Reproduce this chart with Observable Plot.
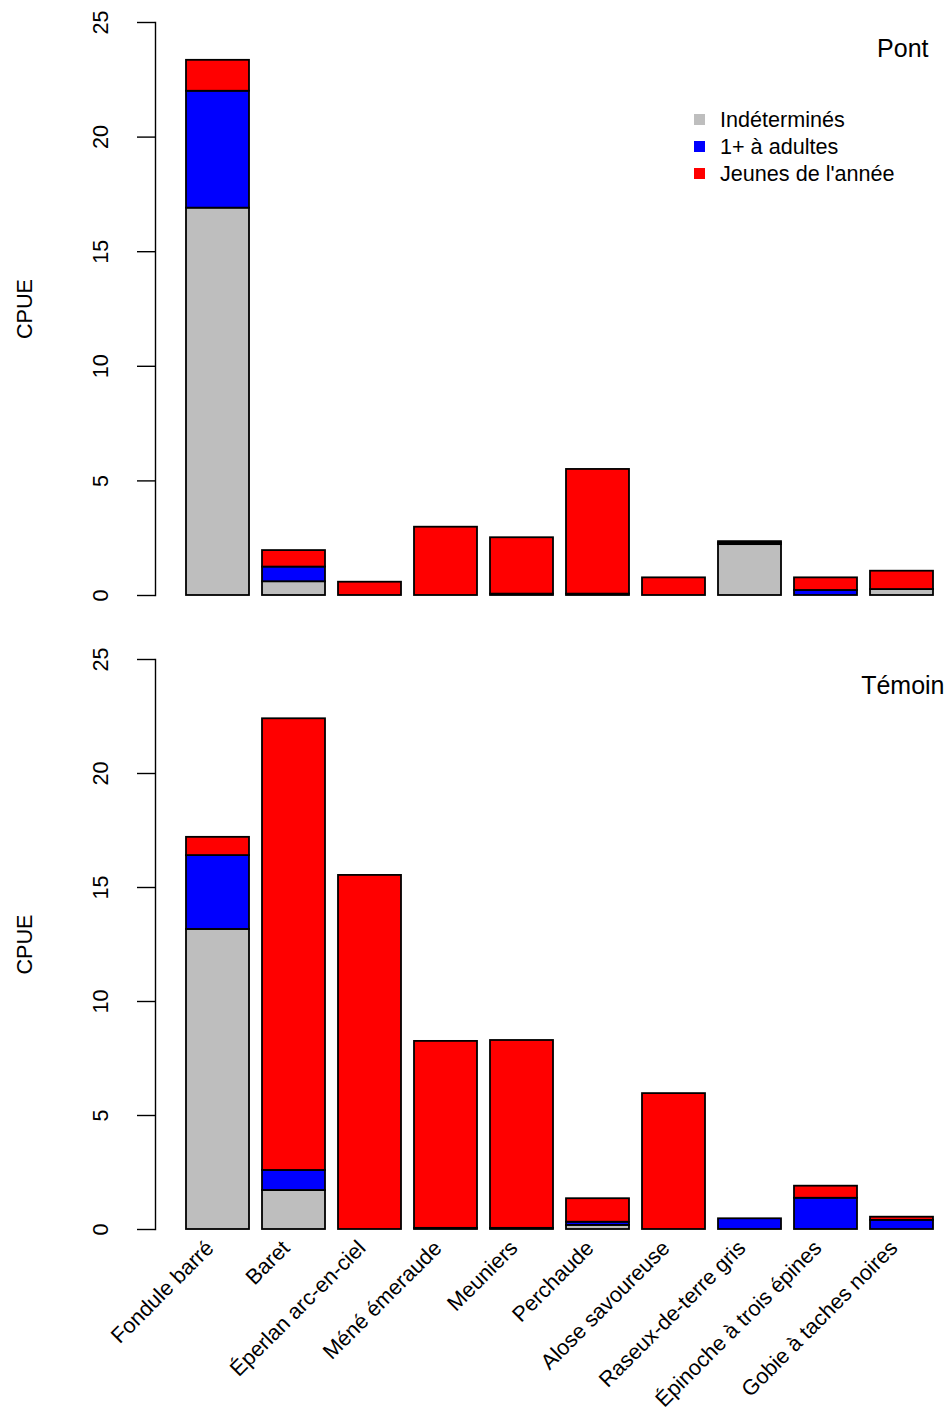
<!DOCTYPE html>
<html><head><meta charset="utf-8">
<script src="https://cdn.jsdelivr.net/npm/d3@7"></script>
<script src="https://cdn.jsdelivr.net/npm/@observablehq/plot@0.6"></script>
<style>
body{margin:0;background:#fff;font-family:"Liberation Sans",Arial,sans-serif}
#chart{position:relative;width:948px}
#chart svg{display:block}
.legend{position:absolute;left:694px;top:106px;font-size:21.6px;line-height:27px;color:#000}
.legend div{display:flex;align-items:center}
.legend span.sw{display:inline-block;width:11px;height:11px;margin-right:15px}
</style>
</head><body><div id="chart"></div>
<script>
const categories = ["Fondule barré","Baret","Éperlan arc-en-ciel","Méné émeraude","Meuniers","Perchaude","Alose savoureuse","Raseux-de-terre gris","Épinoche à trois épines","Gobie à taches noires"];
const stages = ["Indéterminés","1+ à adultes","Jeunes de l'année"];
const stageColors = ["#BEBEBE","#0000FF","#FF0000"];
const panels = ["Pont","Témoin"];
const yTicks = [0,5,10,15,20,25];
const yLabel = "CPUE";

const pontIndet   = [16.9, 0.6, 0, 0, 0, 0, 0, 2.22, 0, 0.26];
const pontAdultes = [5.1, 0.64, 0, 0, 0.06, 0.06, 0, 0.07, 0.22, 0];
const pontJeunes  = [1.35, 0.72, 0.58, 2.98, 2.46, 5.44, 0.77, 0.06, 0.55, 0.8];

const temoinIndet   = [13.16, 1.71, 0, 0, 0, 0.18, 0, 0, 0, 0];
const temoinAdultes = [3.24, 0.88, 0, 0.05, 0.05, 0.14, 0, 0.47, 1.37, 0.4];
const temoinJeunes  = [0.8, 19.81, 15.53, 8.2, 8.24, 1.03, 5.96, 0, 0.53, 0.14];

function rows(series) {
  const out = [];
  categories.forEach((c, i) => {
    series.forEach((s, k) => out.push({category: c, stage: stages[k], value: s[i]}));
  });
  return out;
}

const font = "'Liberation Sans', Arial, sans-serif";
const fs = 21.6;

function panel(name, series, opts) {
  const {height, marginTop, marginBottom, showX, titleDx, titleDy} = opts;
  const marks = [
    Plot.barY(rows(series), {x: "category", y: "value", fill: "stage", stroke: "black", strokeWidth: 1.8}),
    Plot.frame({anchor: "left", stroke: "black", strokeWidth: 1.4}),
    Plot.axisY({ticks: yTicks, tickSize: 18, tickFormat: () => "", label: null, strokeWidth: 1.4}),
    Plot.text(yTicks, {y: d => d, text: d => String(d), frameAnchor: "left", dx: -54, rotate: -90, textAnchor: "middle", lineAnchor: "middle", fontSize: fs, fill: "black"}),
    Plot.text([yLabel], {frameAnchor: "left", dx: -130, rotate: -90, textAnchor: "middle", lineAnchor: "middle", fontSize: fs, fill: "black"}),
    Plot.text([name], {frameAnchor: "top-right", dx: titleDx, dy: titleDy, textAnchor: "end", lineAnchor: "middle", fontSize: 25, fill: "black"})
  ];
  if (showX) {
    marks.push(Plot.text(categories, {x: d => d, text: d => d, frameAnchor: "bottom", dx: -8, dy: 15, rotate: -45, textAnchor: "end", lineAnchor: "middle", fontSize: fs, fill: "black"}));
  }
  return Plot.plot({
    width: 948,
    height,
    marginLeft: 155,
    marginRight: 0,
    marginTop,
    marginBottom,
    style: {fontFamily: font, background: "white", overflow: "visible"},
    x: {domain: categories, range: [178.6, 941.4], paddingInner: 1/6, paddingOuter: 1/12, axis: null},
    y: {domain: [0, 25], axis: null},
    color: {domain: stages, range: stageColors},
    marks
  });
}

const chart = document.getElementById("chart");
chart.appendChild(panel(panels[0], [pontIndet, pontAdultes, pontJeunes], {height: 620, marginTop: 22, marginBottom: 25, showX: false, titleDx: -20, titleDy: 26}));
chart.appendChild(panel(panels[1], [temoinIndet, temoinAdultes, temoinJeunes], {height: 792, marginTop: 39, marginBottom: 183, showX: true, titleDx: -4, titleDy: 26}));

const legend = document.createElement("div");
legend.className = "legend";
stages.forEach((s, k) => {
  const row = document.createElement("div");
  const sw = document.createElement("span");
  sw.className = "sw";
  sw.style.background = stageColors[k];
  row.appendChild(sw);
  row.appendChild(document.createTextNode(s));
  legend.appendChild(row);
});
chart.appendChild(legend);
</script>
</body></html>
